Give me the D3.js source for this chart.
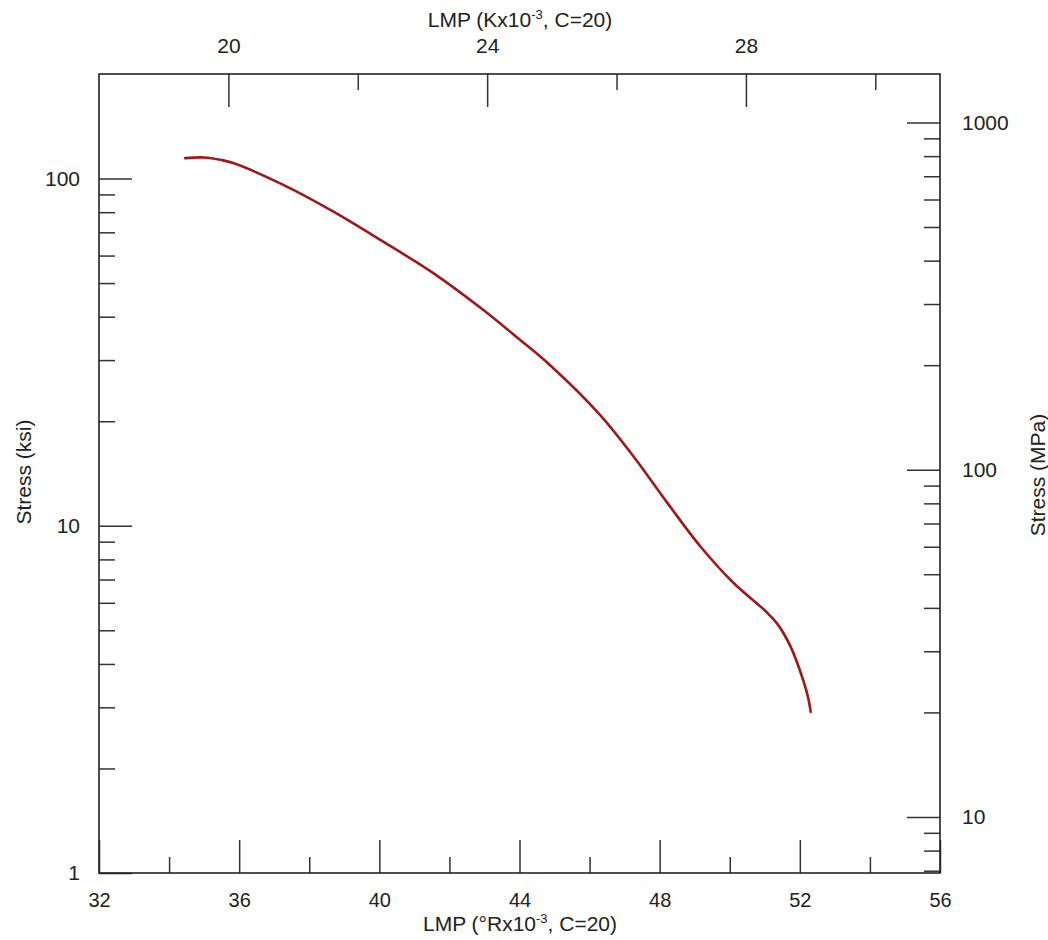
<!DOCTYPE html>
<html>
<head>
<meta charset="utf-8">
<script src="https://cdn.jsdelivr.net/npm/d3@7"></script>
<style>
  html, body { margin: 0; padding: 0; background: #fff; }
  svg text { font-family: "Liberation Sans", Arial, sans-serif; fill: #222; }
</style>
</head>
<body>
<svg id="chart" width="1048" height="940"></svg>
<script>
// Larson-Miller parameter (°R x 10^-3, C=20) and rupture stress (ksi)
const lmpR = [34.46, 35.0, 35.5, 35.83, 37.26, 38.69, 40.11, 41.54, 42.97, 43.94,
              44.89, 46.31, 47.26, 48.23, 49.17, 50.11, 50.89, 51.12, 51.37, 51.74,
              52.03, 52.23, 52.31];
const stressKsi = [114.5, 115.0, 113.0, 110.8, 95.9, 80.3, 65.8, 53.4, 41.8, 34.8,
                   28.9, 20.8, 15.8, 11.6, 8.70, 6.84, 5.84, 5.55, 5.20, 4.48,
                   3.76, 3.22, 2.91];

// Axis domains and ticks
const lmpRDomain = [32, 56];
const lmpKDomain = [18, 31];
const ksiDomain = [1, 200];
const KSI_TO_MPA = 6.895;

const bottomTicks = [32, 34, 36, 38, 40, 42, 44, 46, 48, 50, 52, 54, 56];
const bottomLabels = [32, 36, 40, 44, 48, 52, 56];
const topTicks = [20, 22, 24, 26, 28, 30];
const topLabels = [20, 24, 28];
const leftTicks = [1, 2, 3, 4, 5, 6, 7, 8, 9, 10, 20, 30, 40, 50, 60, 70, 80, 90, 100];
const leftLabels = [1, 10, 100];
const rightTicks = [7, 8, 9, 10, 20, 30, 40, 50, 60, 70, 80, 90, 100,
                    200, 300, 400, 500, 600, 700, 800, 900, 1000];
const rightLabels = [10, 100, 1000];

const svg = d3.select("#chart");
const L = 99, R = 940, T = 74, B = 873;
const MAJOR = 33, MINOR = 16;
const FS = 21;

const x = d3.scaleLinear().domain(lmpRDomain).range([L, R]);
const xTop = d3.scaleLinear().domain(lmpKDomain).range([L, R]);
const y = d3.scaleLog().domain(ksiDomain).range([B, T]);
const yRight = d3.scaleLog().domain(ksiDomain.map(v => v * KSI_TO_MPA)).range([B, T]);

function styleAxis(g, majors, dir, fs) {
  g.select(".domain").remove();
  g.selectAll(".tick line")
    .attr("stroke", "#333")
    .attr("stroke-width", 1.5)
    .each(function(d) {
      const len = (majors.includes(d) ? MAJOR : MINOR) * dir.s;
      d3.select(this).attr(dir.attr, len);
    });
  g.selectAll(".tick text")
    .attr("font-size", fs)
    .attr("font-family", null)
    .style("fill", "#222");
}

// Bottom axis (°R)
const gB = svg.append("g").attr("transform", `translate(0,${B})`)
  .call(d3.axisBottom(x).tickValues(bottomTicks).tickSizeInner(-MINOR).tickSizeOuter(0)
        .tickPadding(20).tickFormat(d => bottomLabels.includes(d) ? d : ""));
styleAxis(gB, bottomLabels, {attr: "y2", s: -1}, 20);

// Top axis (K)
const gT = svg.append("g").attr("transform", `translate(0,${T})`)
  .call(d3.axisTop(xTop).tickValues(topTicks).tickSizeInner(-MINOR).tickSizeOuter(0)
        .tickPadding(21).tickFormat(d => topLabels.includes(d) ? d : ""));
styleAxis(gT, topLabels, {attr: "y2", s: 1}, FS);

// Left axis (ksi)
const gL = svg.append("g").attr("transform", `translate(${L},0)`)
  .call(d3.axisLeft(y).tickValues(leftTicks).tickSizeInner(-MINOR).tickSizeOuter(0)
        .tickPadding(19).tickFormat(d => leftLabels.includes(d) ? d : ""));
styleAxis(gL, leftLabels, {attr: "x2", s: 1}, FS);

// Right axis (MPa)
const gR = svg.append("g").attr("transform", `translate(${R},0)`)
  .call(d3.axisRight(yRight).tickValues(rightTicks).tickSizeInner(-MINOR).tickSizeOuter(0)
        .tickPadding(22).tickFormat(d => rightLabels.includes(d) ? d : ""));
styleAxis(gR, rightLabels, {attr: "x2", s: -1}, FS);

// Plot frame
svg.append("rect")
  .attr("x", L).attr("y", T).attr("width", R - L).attr("height", B - T)
  .attr("fill", "none").attr("stroke", "#222").attr("stroke-width", 1.6);

// Master curve
const pts = lmpR.map((v, i) => [v, stressKsi[i]]);
svg.append("path")
  .datum(pts)
  .attr("fill", "none")
  .attr("stroke", "#a01818")
  .attr("stroke-width", 2.6)
  .attr("stroke-linecap", "round")
  .attr("d", d3.line().x(d => x(d[0])).y(d => y(d[1])).curve(d3.curveCatmullRom.alpha(0.5)));

// Axis titles
function titleWithSup(sel, pre, sup, post) {
  sel.append("tspan").text(pre);
  sel.append("tspan").attr("font-size", FS * 0.62).attr("dy", -FS * 0.38).text(sup);
  sel.append("tspan").attr("dy", FS * 0.38).text(post);
}
titleWithSup(
  svg.append("text").attr("x", 520).attr("y", 931).attr("text-anchor", "middle").attr("font-size", FS),
  "LMP (°Rx10", "-3", ", C=20)");
titleWithSup(
  svg.append("text").attr("x", 520).attr("y", 27).attr("text-anchor", "middle").attr("font-size", FS),
  "LMP (Kx10", "-3", ", C=20)");

svg.append("text")
  .attr("transform", "translate(31,472) rotate(-90)")
  .attr("text-anchor", "middle").attr("font-size", FS)
  .text("Stress (ksi)");
svg.append("text")
  .attr("transform", "translate(1045,475) rotate(-90)")
  .attr("text-anchor", "middle").attr("font-size", FS)
  .text("Stress (MPa)");
</script>
</body>
</html>
